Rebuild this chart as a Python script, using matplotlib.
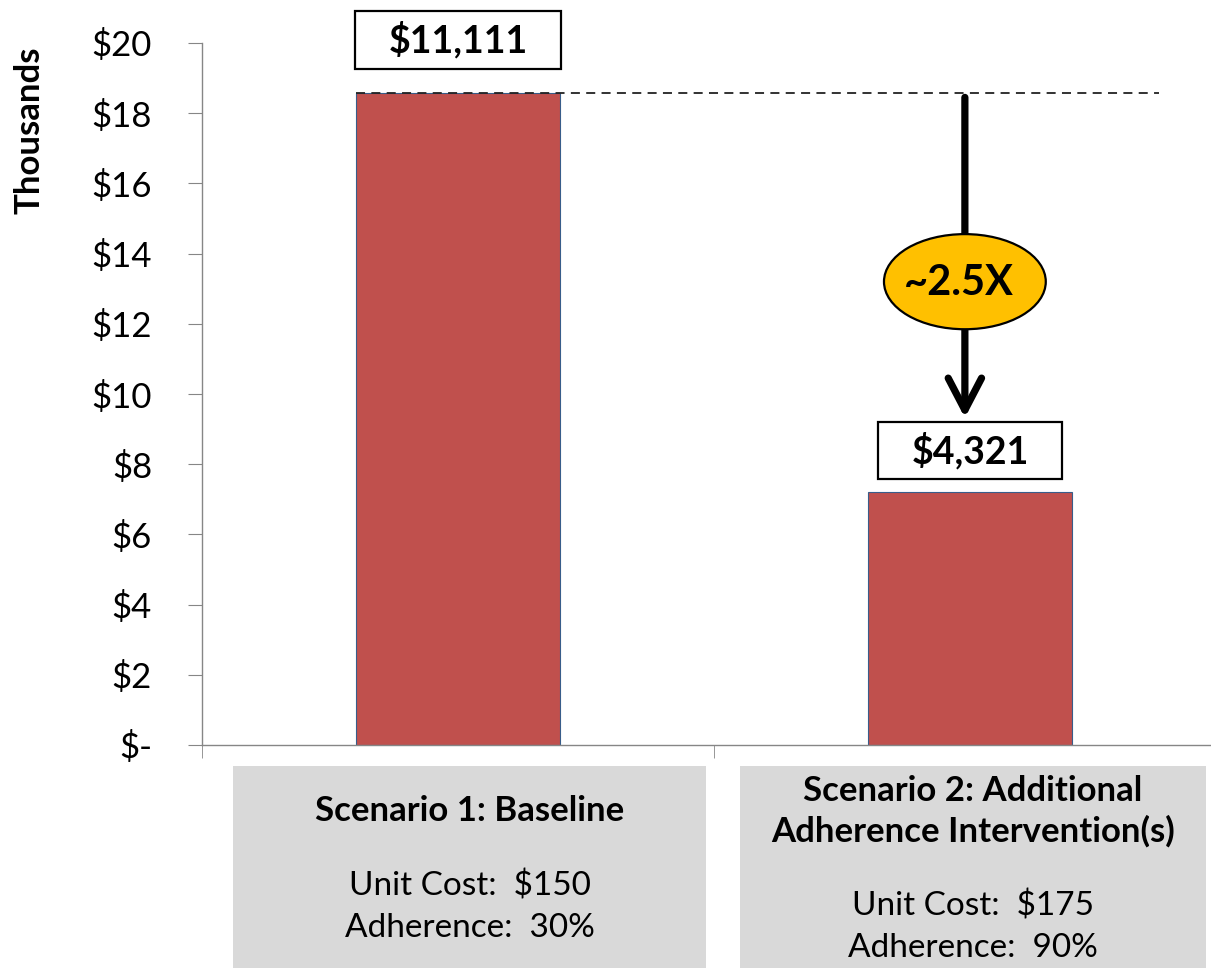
import numpy as np
import matplotlib.pyplot as plt
from matplotlib.patches import Ellipse, Rectangle, FancyArrowPatch

plt.rcParams['font.family'] = ['Lato', 'DejaVu Sans']

# data (thousands of $)
scenario_titles = ['Scenario 1: Baseline',
                   'Scenario 2: Additional\nAdherence Intervention(s)']
costs = [18.57, 7.22]
cost_labels = ['$11,111', '$4,321']
unit_costs = ['$150', '$175']
adherence = ['30%', '90%']
yticks = np.arange(0, 21, 2)
ytick_labels = ['$-'] + ['$%d' % v for v in yticks[1:]]
ratio_label = '~2.5X'

W, H = 1211, 968
fig = plt.figure(figsize=(W / 100, H / 100), dpi=100)
ax = fig.add_axes([202 / W, 1 - 745 / H, 1024 / W, 702 / H])

x = np.arange(len(costs))
bar_w = 0.4
ax.bar(x, costs, width=bar_w, color='#C0504D', edgecolor='#385D8A',
       linewidth=0.8, zorder=2)

ax.set_xlim(-0.5, 1.5)
ax.set_ylim(0, 20)
ax.set_yticks(yticks)
ax.set_yticklabels(ytick_labels)
ax.set_xticks([])
ax.set_xticks([-0.5, 0.5, 1.5], minor=True)
ax.tick_params(axis='y', length=10, color='#868686', labelsize=25, pad=26)
ax.tick_params(axis='x', which='minor', length=9.5, color='#868686')
for s in ['top', 'right']:
    ax.spines[s].set_visible(False)
for s in ['left', 'bottom']:
    ax.spines[s].set_color('#868686')
    ax.spines[s].set_linewidth(1.0)
ax.set_ylabel('Thousands', fontsize=25, fontweight='bold')
ax.yaxis.set_label_coords(-0.153, 0.875)

# value labels in boxes
label_offsets = [1.52, 1.17]
fig.canvas.draw()
rend = fig.canvas.get_renderer()
to_data = ax.transData.inverted()
for xi, c, lab, off in zip(x, costs, cost_labels, label_offsets):
    t = ax.text(xi, c + off, lab, ha='center', va='center', fontsize=27,
                fontweight='bold', clip_on=False, zorder=6)
    bb = t.get_window_extent(rend)
    (x0, y0), (x1, y1) = to_data.transform([(bb.x0 - 33, bb.y0 - 10),
                                            (bb.x1 + 33, bb.y1 + 10)])
    ax.add_patch(Rectangle((x0, y0), x1 - x0, y1 - y0, fc='white',
                           ec='black', lw=1.6, clip_on=False, zorder=5))

# dashed reference line at baseline level
ax.plot([x[0] - bar_w / 2, 1.37], [costs[0], costs[0]], color='#222222',
        lw=1.3, ls=(0, (5, 3.5)), zorder=3)

# arrow showing reduction
ax_x = x[1] - 0.01
arr = FancyArrowPatch((ax_x, costs[0] - 0.12), (ax_x, costs[1] + 2.1),
                      arrowstyle='->,head_length=1.15,head_width=0.6',
                      mutation_scale=20, lw=5.2, color='black',
                      shrinkA=0, shrinkB=0, zorder=4)
ax.add_patch(arr)
ax.add_patch(Ellipse((ax_x, 13.2), 0.316, 2.71, fc='#FFC000', ec='black',
                     lw=1.6, zorder=5))
ax.text(ax_x - 0.012, 13.15, ratio_label, ha='center', va='center',
        fontsize=30, fontweight='bold', zorder=6)

# scenario description panels below the axis
panels = [(233, 706), (740, 1206)]
for (l, r), title, uc, ad in zip(panels, scenario_titles, unit_costs, adherence):
    fig.patches.append(Rectangle((l / W, 0), (r - l) / W, 1 - 766 / H,
                                 transform=fig.transFigure,
                                 fc='#D9D9D9', ec='none'))
    cx = (l + r) / 2 / W
    two_line = '\n' in title
    fig.text(cx, 1 - 811 / H, title, ha='center', va='center', fontsize=25,
             fontweight='bold', linespacing=1.3)
    y0 = 906 if two_line else 886
    fig.text(cx, 1 - y0 / H, 'Unit Cost:  ' + uc, ha='center', va='center',
             fontsize=24)
    fig.text(cx, 1 - (y0 + 42) / H, 'Adherence:  ' + ad, ha='center',
             va='center', fontsize=24)

fig.savefig('out.png', dpi=100)
